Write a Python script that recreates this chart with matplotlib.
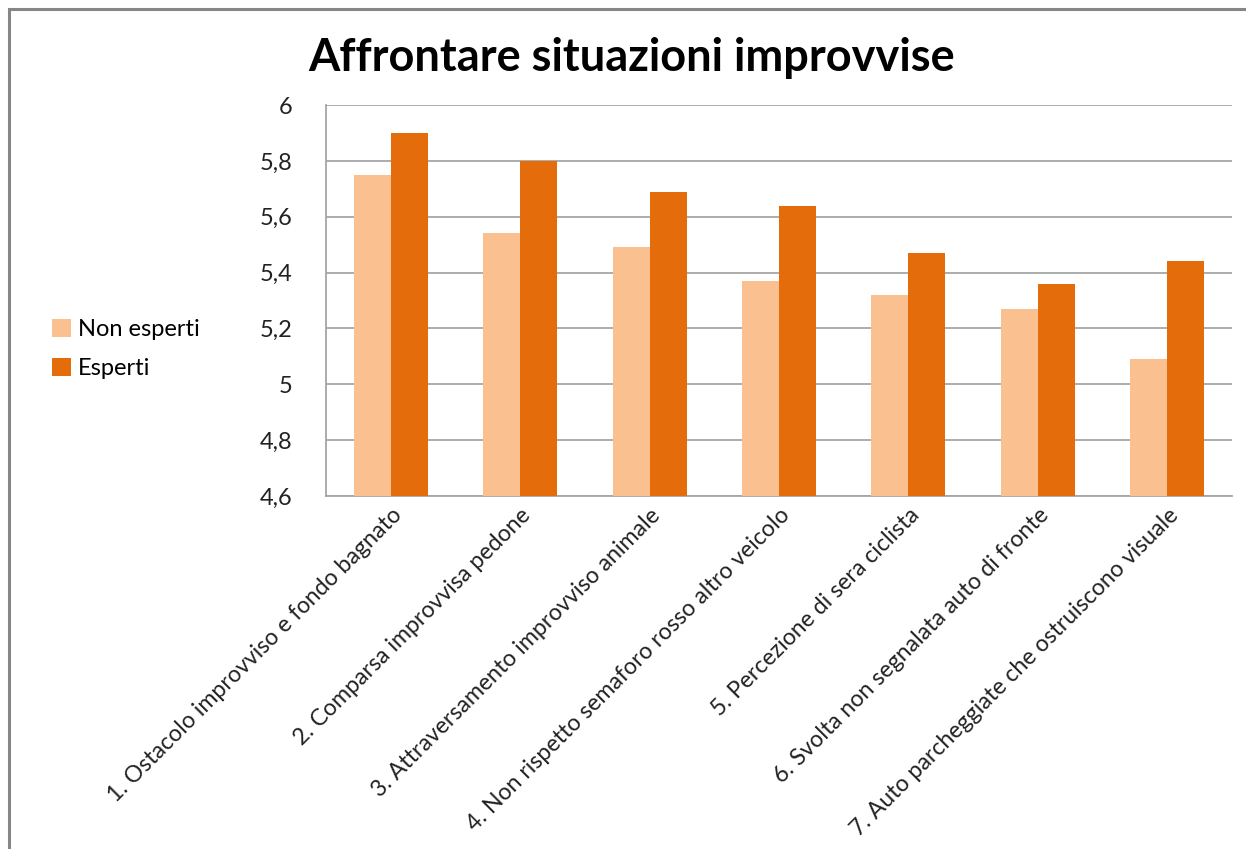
import matplotlib
matplotlib.use("Agg")
import matplotlib.pyplot as plt
import numpy as np
from matplotlib.patches import Rectangle

plt.rcParams['font.family'] = ['Lato', 'DejaVu Sans']

categories = [
    "1. Ostacolo improvviso e fondo bagnato",
    "2. Comparsa improvvisa pedone",
    "3. Attraversamento improvviso animale",
    "4. Non rispetto semaforo rosso altro veicolo",
    "5. Percezione di sera ciclista",
    "6. Svolta non segnalata auto di fronte",
    "7. Auto parcheggiate che ostruiscono visuale",
]
non_esperti = [5.75, 5.54, 5.49, 5.37, 5.32, 5.27, 5.09]
esperti = [5.90, 5.80, 5.69, 5.64, 5.47, 5.36, 5.44]
series_names = ["Non esperti", "Esperti"]
y_ticks = [4.6, 4.8, 5.0, 5.2, 5.4, 5.6, 5.8, 6.0]

light = "#FAC090"
dark = "#E46C0A"
grid_col = "#A6A6A6"

fig = plt.figure(figsize=(12.46, 8.49), dpi=100)
fig.patch.set_facecolor("white")

# outer chart frame
fig.add_artist(Rectangle((9 / 1246, -0.05), 1.1, 1 - 9 / 849 + 0.05,
                         transform=fig.transFigure, fill=False,
                         edgecolor="#868686", linewidth=2.2))

ax = fig.add_axes([326 / 1246, 1 - 496 / 849, (1232 - 326) / 1246, (496 - 105) / 849])

x = np.arange(len(categories))
w = 0.286
b1 = ax.bar(x - w / 2, np.array(non_esperti) - 4.6, w, bottom=4.6, color=light,
            label=series_names[0], zorder=3)
b2 = ax.bar(x + w / 2, np.array(esperti) - 4.6, w, bottom=4.6, color=dark,
            label=series_names[1], zorder=3)

ax.set_ylim(4.6, 6.0)
ax.set_xlim(-0.5, len(categories) - 0.5)
ax.set_yticks(y_ticks)
ax.set_yticklabels([f"{v:g}".replace(".", ",") for v in y_ticks], fontsize=17, color="#222222")
ax.yaxis.grid(True, color=grid_col, linewidth=1.3, zorder=0)
ax.tick_params(axis="y", length=0, pad=24)
ax.tick_params(axis="x", length=0, pad=6)
ax.set_xticks(x)
ax.set_xticklabels(categories, rotation=45, ha="right", rotation_mode="anchor",
                   fontsize=16.7, color="#222222")
for s in ["top", "right"]:
    ax.spines[s].set_visible(False)
ax.spines["left"].set_color(grid_col)
ax.spines["left"].set_linewidth(1.3)
ax.spines["bottom"].set_color(grid_col)
ax.spines["bottom"].set_linewidth(1.3)

fig.text(632 / 1246, 1 - 58 / 849, "Affrontare situazioni improvvise",
         ha="center", va="center", fontsize=32.5, fontweight="bold", color="black")

fig.legend(handles=[b1, b2], labels=series_names, loc="center left",
           bbox_to_anchor=(31 / 1246, 1 - 349 / 849), frameon=False,
           fontsize=17, handlelength=0.8, handleheight=0.8, handletextpad=0.3,
           labelspacing=0.75)

fig.savefig("out.png", dpi=100, facecolor="white")
